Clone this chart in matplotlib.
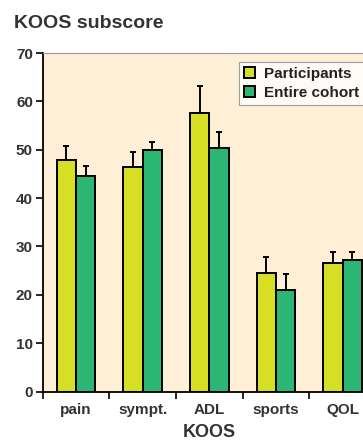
import numpy as np
import matplotlib.pyplot as plt

# KOOS subscores (mean and upper error)
categories = ['pain', 'sympt.', 'ADL', 'sports', 'QOL']
participants = [47.8, 46.5, 57.5, 24.5, 26.5]
participants_err = [3.0, 3.1, 5.6, 3.4, 2.3]
cohort = [44.5, 49.9, 50.4, 21.0, 27.2]
cohort_err = [2.2, 1.6, 3.3, 3.2, 1.7]

plt.rcParams['font.family'] = ['Liberation Sans', 'DejaVu Sans']
plt.rcParams['font.weight'] = 'bold'

fig = plt.figure(figsize=(3.63, 4.40), dpi=100)
ax = fig.add_axes([0.1176, 0.1102, 0.9187, 0.7693])
ax.set_facecolor('#FEEFD6')

x = np.arange(len(categories))
w = 0.29
ax.bar(x - w / 2, participants, w, color='#D6DF23', edgecolor='black', linewidth=1.4,
       yerr=[np.zeros(5), participants_err], error_kw=dict(ecolor='black', elinewidth=1.4, capsize=2, capthick=1.4),
       label='Participants', zorder=2)
ax.bar(x + w / 2, cohort, w, color='#2BB673', edgecolor='black', linewidth=1.4,
       yerr=[np.zeros(5), cohort_err], error_kw=dict(ecolor='black', elinewidth=1.4, capsize=2, capthick=1.4),
       label='Entire cohort', zorder=2)

ax.set_xlim(-0.5, 4.5)
ax.set_ylim(0, 70)
ax.set_yticks(range(0, 71, 10))
ax.set_xticks(np.arange(-0.5, 5, 1))
ax.set_xticklabels([])
ax.set_xticks(x, minor=True)
ax.set_xticklabels(categories, minor=True)
ax.tick_params(axis='x', which='minor', length=0, pad=8, labelsize=11, labelcolor='#333333')
ax.tick_params(axis='x', which='major', length=5, width=1.2)
ax.tick_params(axis='y', length=5, width=1.2, labelsize=11, labelcolor='#333333', pad=2)

ax.spines['left'].set_linewidth(1.3)
ax.spines['bottom'].set_linewidth(1.3)
ax.spines['top'].set_color('#999999')
ax.spines['top'].set_linewidth(0.8)
ax.spines['right'].set_visible(False)

ax.set_xlabel('KOOS', fontsize=13, fontweight='bold', color='#333333', labelpad=5)

leg = fig.legend(*ax.get_legend_handles_labels(), loc='upper left', bbox_to_anchor=(239 / 363, 1 - 62 / 440),
                 fontsize=11, frameon=True, fancybox=False,
                 handlelength=0.75, handleheight=0.75, handletextpad=0.6, borderpad=0.3, labelspacing=0.35,
                 borderaxespad=0)
leg.get_frame().set_edgecolor('#888888')
leg.get_frame().set_linewidth(0.8)
for t in leg.get_texts():
    t.set_color('#222222')

fig.text(0.038, 0.937, 'KOOS subscore', fontsize=14, fontweight='bold', color='#333333', va='baseline')

fig.savefig('out.png', dpi=100)
